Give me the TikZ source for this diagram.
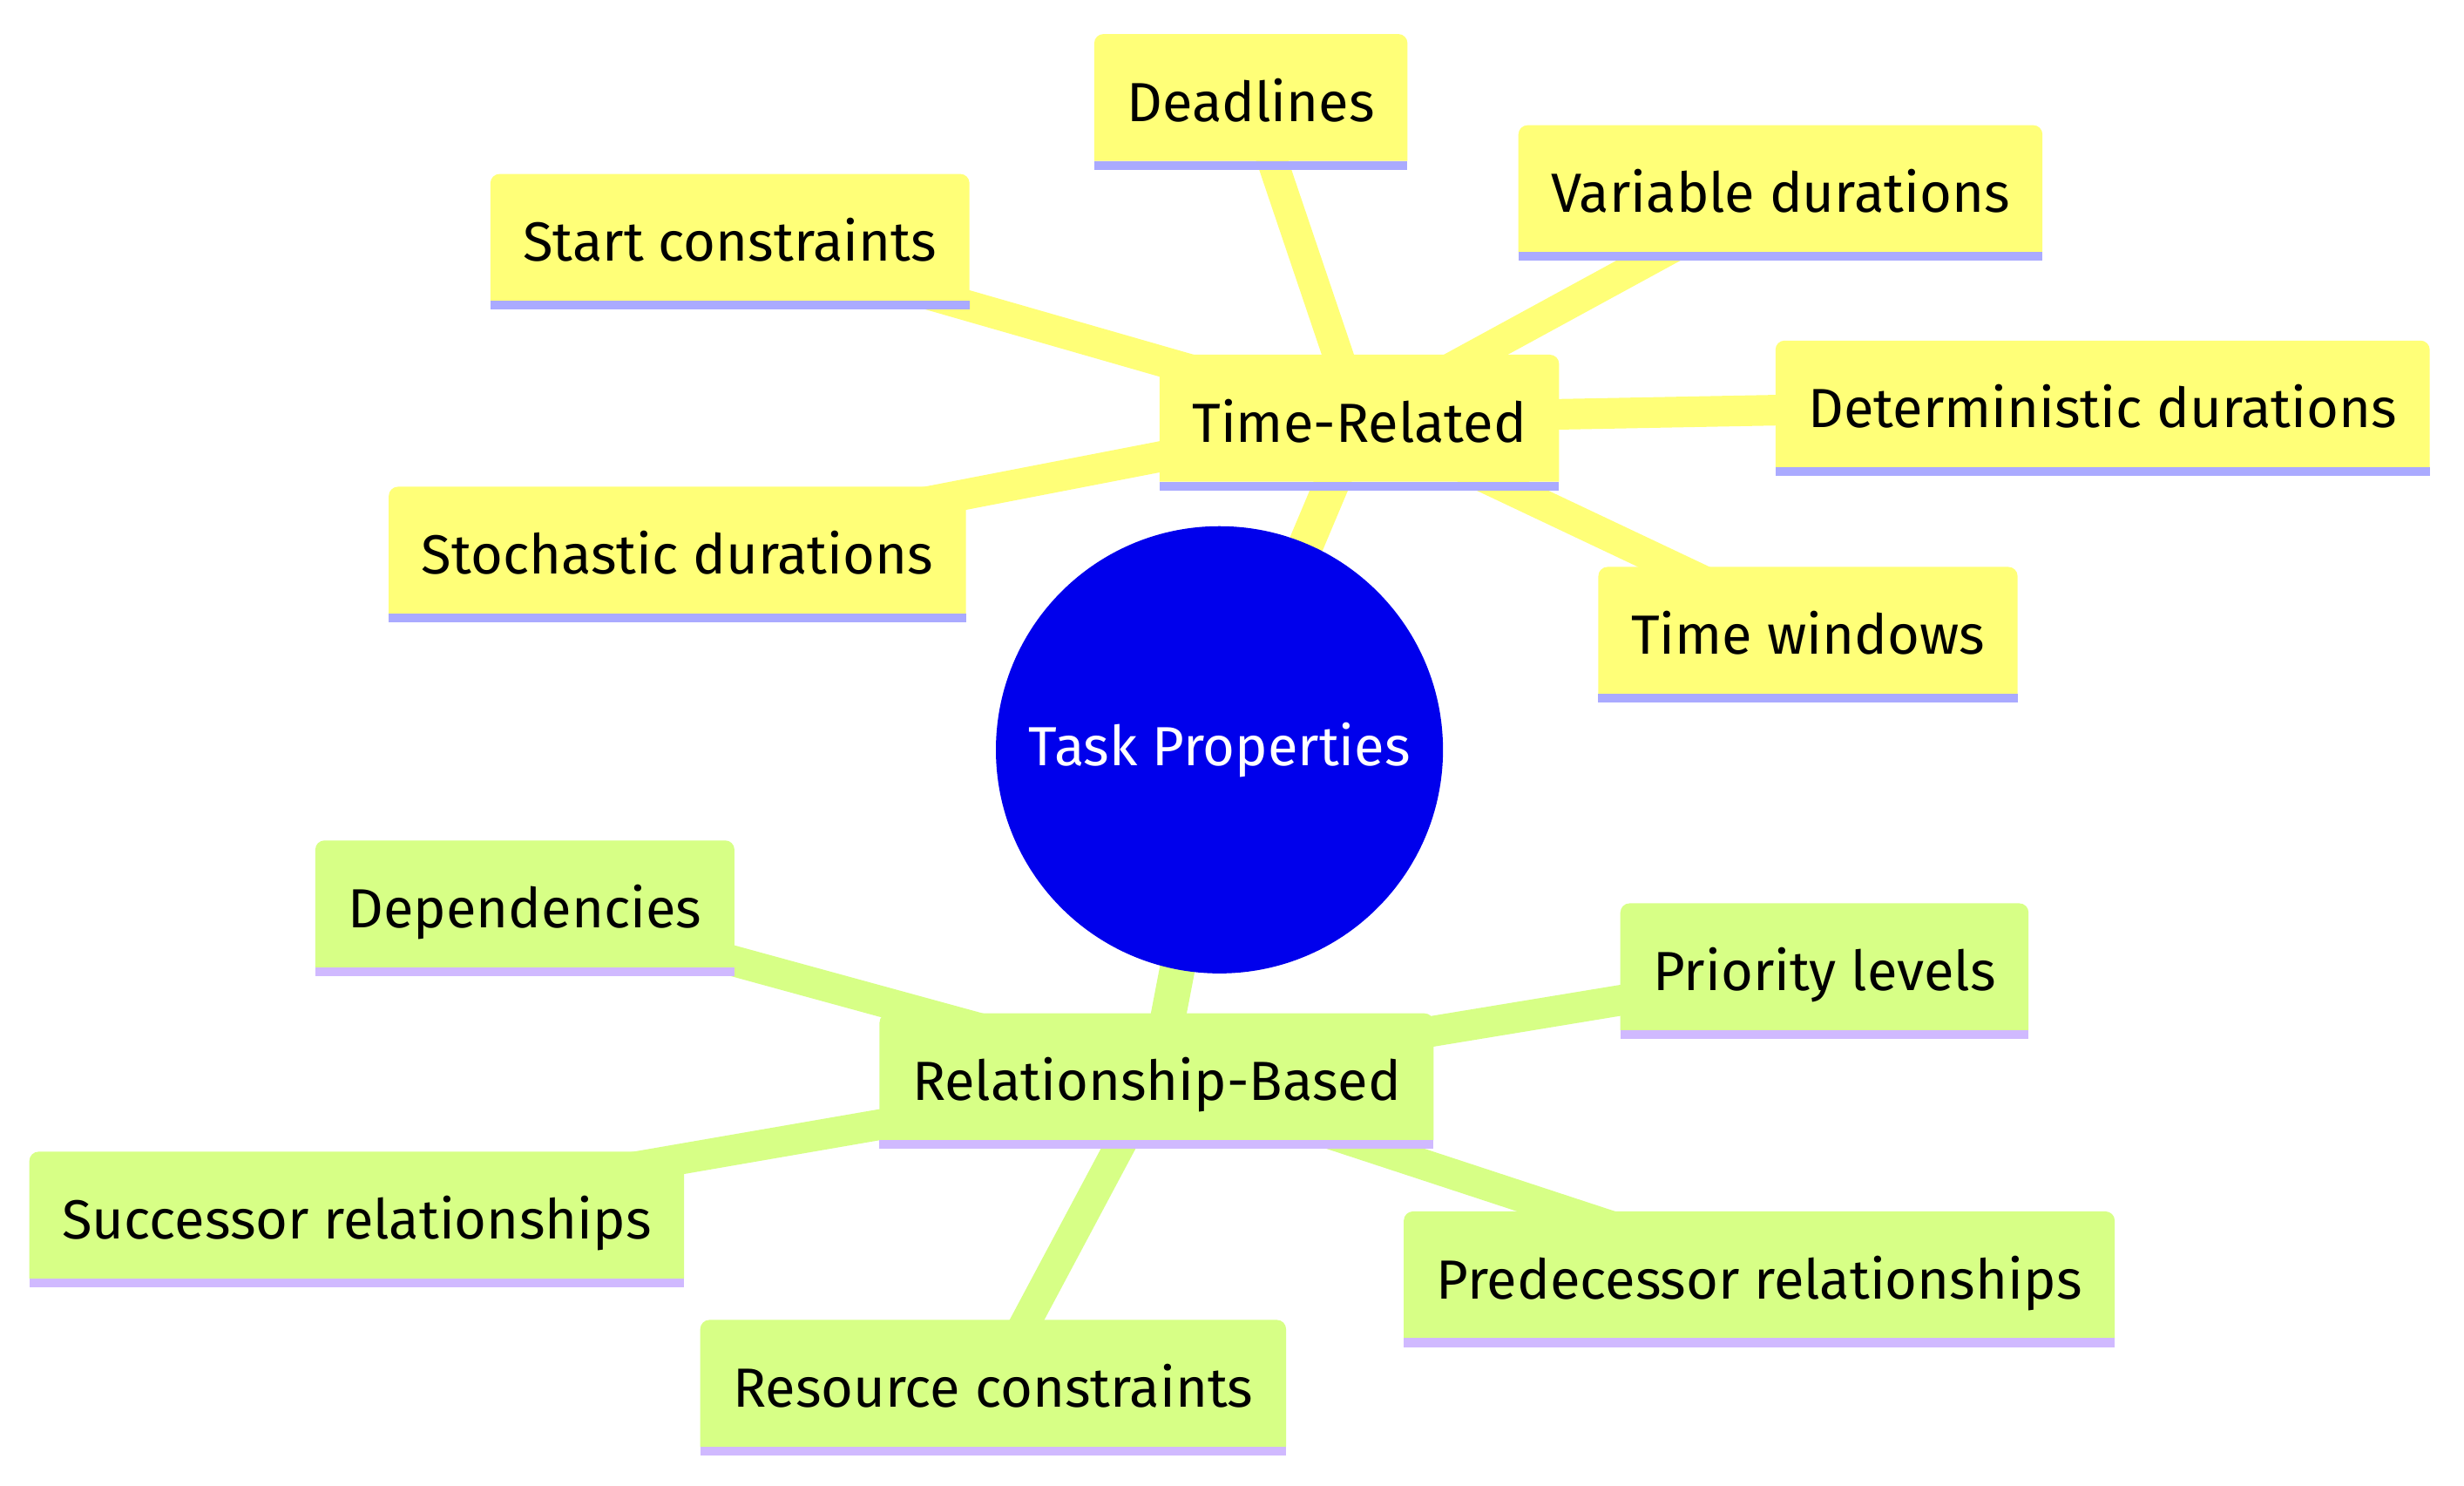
\documentclass[tikz,border=0pt]{standalone}
\usepackage{fontspec}
\setmainfont{Fira Sans}
\definecolor{ylw}{HTML}{FFFF78}
\definecolor{ylwline}{HTML}{AAAAFF}
\definecolor{grn}{HTML}{D7FF86}
\definecolor{grnline}{HTML}{D0B9FF}
\definecolor{rootblue}{HTML}{0000EC}
\pgfdeclarelayer{bg}
\pgfdeclarelayer{edges}
\pgfdeclarelayer{boxes}
\pgfsetlayers{bg,edges,boxes,main}
\tikzset{
  leaf/.style={inner xsep=10.5pt, inner ysep=0pt, minimum height=41pt,
    text height=19pt, text depth=3.4pt,
    font=\fontsize{18}{21}\selectfont, text=black},
  rootnode/.style={circle, fill=rootblue, minimum size=146pt, inner sep=0pt,
    text=white, font=\fontsize{18}{21}\selectfont},
  yedge/.style={draw=ylw, line width=10pt},
  yedgemain/.style={draw=ylw, line width=11.5pt},
  gedge/.style={draw=grn, line width=10pt},
  gedgemain/.style={draw=grn, line width=11.5pt},
}
\newcommand\mmbox[3]{%
  \begin{pgfonlayer}{boxes}
    \fill[#2] (#1.south west) [rounded corners=3pt] -- (#1.north west) -- (#1.north east) [sharp corners] -- (#1.south east) -- cycle;
    \fill[#3] (#1.south west) rectangle ([yshift=-2.9pt]#1.south east);
  \end{pgfonlayer}}
\begin{document}
\begin{tikzpicture}[x=0.18036mm, y=-0.18036mm]
  \begin{pgfonlayer}{bg}
    \fill[white] (0,0) rectangle (1568,945);
  \end{pgfonlayer}
  \useasboundingbox (0,0) rectangle (1568,945);

  \node[rootnode] (root) at (776,477) {Task Properties};

  \node[leaf] (tr) at (865,266) {Time-Related};
  \node[leaf] (dl) at (796,62) {Deadlines};
  \node[leaf] (sc) at (464.5,151) {Start constraints};
  \node[leaf] (vd) at (1133,120) {Variable durations};
  \node[leaf] (dd) at (1338,257) {Deterministic durations};
  \node[leaf] (sd) at (431,350) {Stochastic durations};
  \node[leaf] (tw) at (1150.5,401) {Time windows};

  \node[leaf] (rb) at (736,685) {Relationship-Based};
  \node[leaf] (dp) at (334,575) {Dependencies};
  \node[leaf] (pl) at (1161,615) {Priority levels};
  \node[leaf] (sr) at (227,773) {Successor relationships};
  \node[leaf] (pr) at (1119.5,811) {Predecessor relationships};
  \node[leaf] (rc) at (632,880) {Resource constraints};

  \foreach \n in {tr,dl,sc,vd,dd,sd,tw}{\mmbox{\n}{ylw}{ylwline}}
  \foreach \n in {rb,dp,pl,sr,pr,rc}{\mmbox{\n}{grn}{grnline}}

  \begin{pgfonlayer}{edges}
    \draw[yedgemain] (root.center) -- (tr.center);
    \foreach \n in {dl,sc,vd,dd,sd,tw}{\draw[yedge] (tr.center) -- (\n.center);}
    \draw[gedgemain] (root.center) -- (rb.center);
    \foreach \n in {dp,pl,sr,pr,rc}{\draw[gedge] (rb.center) -- (\n.center);}
  \end{pgfonlayer}
\end{tikzpicture}
\end{document}
